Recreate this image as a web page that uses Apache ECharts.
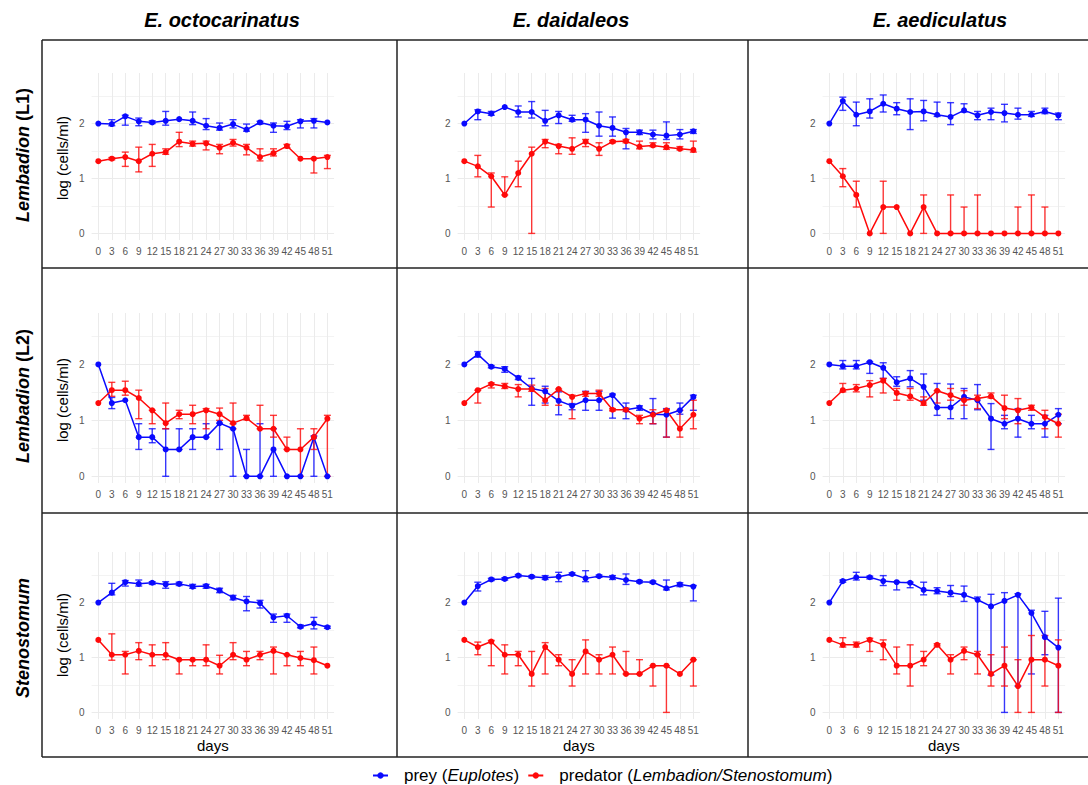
<!DOCTYPE html>
<html><head><meta charset="utf-8">
<script src="https://cdn.jsdelivr.net/npm/echarts@6/dist/echarts.min.js"></script>
<style>html,body{margin:0;padding:0;background:#fff}#c{width:1088px;height:785px}</style>
</head><body><div id="c"></div>
<script>
const days = [0,3,6,9,12,15,18,21,24,27,30,33,36,39,42,45,48,51];
const colTitles = ['E. octocarinatus','E. daidaleos','E. aediculatus'];
const yTickLabels = ['0','1','2'];

// Row 1: Lembadion (L1)
const A_prey   = [2.00,1.99,2.13,2.04,2.02,2.05,2.08,2.05,1.96,1.92,1.99,1.89,2.02,1.96,1.95,2.04,2.05,2.02];
const A_preyLo = [null,1.96,1.97,1.96,2.00,1.97,null,1.98,1.89,1.88,1.92,1.86,1.99,1.84,1.89,1.92,1.92,null];
const A_preyHi = [null,2.07,2.15,2.10,2.05,2.22,null,2.21,2.09,2.01,2.07,1.99,2.04,2.01,2.04,2.07,2.09,null];
const A_pred   = [1.315,1.36,1.39,1.315,1.45,1.48,1.67,1.63,1.64,1.56,1.65,1.56,1.39,1.46,1.59,1.36,1.36,1.39];
const A_predLo = [null,1.34,1.22,1.12,1.22,1.44,1.58,1.59,1.52,1.45,1.59,1.43,1.32,1.41,1.56,null,1.10,1.18];
const A_predHi = [null,1.38,1.48,1.57,1.62,1.54,1.84,1.68,1.68,1.62,1.71,1.62,1.54,1.54,1.62,null,1.37,1.42];

const B_prey   = [2.00,2.22,2.18,2.30,2.21,2.21,2.05,2.15,2.07,2.07,1.96,1.92,1.84,1.84,1.80,1.78,1.80,1.86];
const B_preyLo = [null,2.07,2.15,null,2.12,2.10,1.96,2.00,2.04,1.84,1.77,1.77,1.54,1.80,1.72,1.71,1.72,1.82];
const B_preyHi = [null,2.25,2.22,null,2.32,2.40,2.24,2.22,2.15,2.18,2.21,2.12,1.91,1.88,1.88,2.03,1.89,1.89];
const B_pred   = [1.315,1.22,1.04,0.70,1.10,1.45,1.67,1.59,1.54,1.67,1.54,1.67,1.68,1.58,1.60,1.57,1.54,1.52];
const B_predLo = [null,1.03,0.48,0.70,0.85,0.00,1.56,1.45,1.44,1.58,1.42,1.65,1.65,1.54,1.58,1.53,1.52,1.48];
const B_predHi = [null,1.42,1.10,1.03,1.315,1.57,1.71,1.62,1.74,1.71,1.65,1.69,1.71,1.68,1.65,1.65,1.58,1.68];

const C_prey   = [2.00,2.41,2.16,2.22,2.36,2.27,2.21,2.22,2.16,2.12,2.24,2.15,2.21,2.19,2.16,2.16,2.22,2.15];
const C_preyLo = [null,2.24,1.96,2.10,2.21,2.16,1.89,2.05,2.13,1.98,2.21,2.07,2.07,2.03,2.08,2.13,2.18,2.07];
const C_preyHi = [null,2.48,2.39,2.45,2.52,2.38,2.45,2.42,2.39,2.38,2.36,2.22,2.28,2.35,2.28,2.22,2.28,2.19];
const C_pred   = [1.315,1.04,0.70,0,0.48,0.48,0,0.48,0,0,0,0,0,0,0,0,0,0];
const C_predLo = [null,0.85,0.48,null,0,null,null,0,null,0,0,0,null,null,0,0,0,null];
const C_predHi = [null,1.18,0.95,null,0.95,null,null,0.70,null,0.70,0.48,0.70,null,null,0.48,0.70,0.48,null];

// Row 2: Lembadion (L2)
const D_prey   = [2.00,1.31,1.36,0.70,0.70,0.48,0.48,0.70,0.70,0.95,0.85,0,0,0.48,0,0,0.70,0];
const D_preyLo = [null,1.21,null,0.48,0.60,0,0.48,0.48,0.70,0.48,0,0,0,0,null,null,0,null];
const D_preyHi = [null,1.41,null,0.94,0.85,0.85,0.85,0.85,0.94,0.95,0.94,0.48,0.94,0.85,null,null,0.72,null];
const D_pred   = [1.31,1.54,1.54,1.40,1.18,0.95,1.11,1.11,1.18,1.11,0.95,1.04,0.85,0.85,0.48,0.48,0.70,1.03];
const D_predLo = [null,1.43,1.45,1.03,0.94,0.85,1.03,0.94,0.85,1.00,0.85,1.01,0.85,0.70,0.48,0,0.48,0];
const D_predHi = [null,1.68,1.70,1.54,1.18,1.31,1.18,1.27,1.21,1.22,1.31,1.09,1.27,1.09,0.70,0.85,0.85,1.09];

const E_prey   = [2.00,2.18,1.96,1.92,1.76,1.57,1.52,1.35,1.26,1.36,1.36,1.45,1.19,1.23,1.11,1.10,1.18,1.42];
const E_preyLo = [null,2.13,1.94,1.86,1.73,1.27,1.31,1.10,1.19,1.18,1.18,1.04,1.03,1.18,0.94,0.70,1.11,1.18];
const E_preyHi = [null,2.23,1.98,1.96,1.79,1.75,1.61,1.51,1.30,1.52,1.52,1.47,1.31,1.26,1.39,1.21,1.31,1.45];
const E_pred   = [1.31,1.54,1.65,1.61,1.56,1.56,1.36,1.56,1.42,1.48,1.48,1.19,1.19,1.03,1.10,1.18,0.85,1.10];
const E_predLo = [null,1.31,1.58,1.57,1.42,1.52,1.27,1.27,1.03,1.43,1.43,1.17,1.16,0.94,0.94,0.70,0.70,0.85];
const E_predHi = [null,1.54,1.67,1.66,1.64,1.63,1.57,1.56,1.45,1.51,1.54,1.21,1.22,1.09,1.19,1.19,1.18,1.36];

const F_prey   = [2.00,1.97,1.97,2.04,1.94,1.68,1.75,1.60,1.23,1.23,1.42,1.36,1.03,0.94,1.03,0.94,0.94,1.10];
const F_preyLo = [null,1.92,1.92,1.84,1.75,1.61,1.60,1.36,1.09,1.03,1.03,1.19,0.48,0.85,0.70,0.85,0.70,0.94];
const F_preyHi = [null,2.07,2.07,2.05,2.03,1.78,1.89,1.83,1.66,1.65,1.57,1.64,1.30,1.09,1.21,1.09,1.09,1.21];
const F_pred   = [1.31,1.54,1.57,1.63,1.71,1.49,1.43,1.31,1.53,1.45,1.36,1.39,1.43,1.22,1.18,1.23,1.06,0.94];
const F_predLo = [null,1.51,1.51,1.42,1.49,1.36,1.36,1.27,1.31,1.36,1.27,1.21,1.40,1.03,0.94,1.18,0.85,0.70];
const F_predHi = [null,1.66,1.64,1.71,1.75,1.57,1.57,1.42,1.53,1.57,1.53,1.45,1.49,1.45,1.39,1.27,1.18,1.11];

// Row 3: Stenostomum
const G_prey   = [2.00,2.18,2.37,2.34,2.36,2.33,2.34,2.29,2.30,2.22,2.09,2.02,1.99,1.73,1.76,1.56,1.62,1.55];
const G_preyLo = [null,2.14,2.30,2.30,2.33,2.26,2.31,2.26,2.26,2.18,2.05,1.85,1.90,1.64,1.64,1.54,1.52,1.53];
const G_preyHi = [null,2.35,2.40,2.41,2.38,2.38,2.37,2.33,2.33,2.26,2.13,2.11,2.04,1.79,1.79,1.59,1.73,1.57];
const G_pred   = [1.32,1.05,1.05,1.12,1.05,1.05,0.96,0.96,0.96,0.85,1.05,0.96,1.05,1.12,1.05,0.99,0.95,0.85];
const G_predLo = [null,0.95,0.70,0.96,0.85,0.96,0.70,0.85,0.85,0.70,0.96,0.85,0.96,0.70,0.85,0.85,0.70,null];
const G_predHi = [null,1.43,1.11,1.27,1.23,1.27,0.96,0.96,1.23,1.04,1.27,1.11,1.11,1.19,1.05,1.11,1.19,null];

const H_prey   = [2.00,2.30,2.42,2.43,2.49,2.47,2.45,2.47,2.52,2.44,2.48,2.46,2.41,2.38,2.37,2.26,2.33,2.29];
const H_preyLo = [null,2.21,2.40,2.41,2.47,2.45,2.42,2.38,2.50,2.38,2.46,2.42,2.33,2.36,2.35,2.23,2.29,2.03];
const H_preyHi = [null,2.37,2.44,2.45,2.51,2.49,2.49,2.55,2.54,2.58,2.50,2.49,2.52,2.40,2.39,2.41,2.36,2.31];
const H_pred   = [1.32,1.19,1.29,1.05,1.05,0.70,1.19,0.96,0.70,1.11,0.96,1.05,0.70,0.70,0.85,0.85,0.70,0.96];
const H_predLo = [null,1.05,0.85,0.70,0.85,0.48,0.70,0.85,0.48,0.70,0.70,0.70,0.70,0.70,0.48,0,null,0.48];
const H_predHi = [null,1.28,1.31,1.23,1.11,1.11,1.27,1.05,0.96,1.32,1.05,1.19,1.11,0.96,0.85,0.85,null,0.96];

const I_prey   = [2.00,2.39,2.46,2.46,2.39,2.37,2.36,2.23,2.21,2.18,2.14,2.05,1.93,2.03,2.14,1.81,1.37,1.18];
const I_preyLo = [null,2.37,2.41,2.43,2.31,2.23,2.27,2.14,2.16,2.11,2.02,1.05,0.68,0,0.48,0.70,1.05,0];
const I_preyHi = [null,2.41,2.55,2.48,2.49,2.38,2.37,2.37,2.27,2.31,2.30,2.10,2.15,2.18,2.16,1.86,1.84,2.08];
const I_pred   = [1.32,1.23,1.23,1.32,1.23,0.85,0.85,0.96,1.23,0.96,1.12,1.05,0.70,0.85,0.48,0.96,0.96,0.85];
const I_predLo = [null,1.19,1.19,1.11,0.96,0.70,0.48,0.85,1.21,0.70,0.96,0.70,0.48,0.48,0,0,0.48,0];
const I_predHi = [null,1.36,1.28,1.35,1.32,1.19,1.23,1.11,1.25,1.05,1.19,1.11,1.05,1.19,0.96,1.40,1.40,1.32];

const panels = [
  {r:0,c:0,p:A_prey,pl:A_preyLo,ph:A_preyHi,q:A_pred,ql:A_predLo,qh:A_predHi},
  {r:0,c:1,p:B_prey,pl:B_preyLo,ph:B_preyHi,q:B_pred,ql:B_predLo,qh:B_predHi},
  {r:0,c:2,p:C_prey,pl:C_preyLo,ph:C_preyHi,q:C_pred,ql:C_predLo,qh:C_predHi},
  {r:1,c:0,p:D_prey,pl:D_preyLo,ph:D_preyHi,q:D_pred,ql:D_predLo,qh:D_predHi},
  {r:1,c:1,p:E_prey,pl:E_preyLo,ph:E_preyHi,q:E_pred,ql:E_predLo,qh:E_predHi},
  {r:1,c:2,p:F_prey,pl:F_preyLo,ph:F_preyHi,q:F_pred,ql:F_predLo,qh:F_predHi},
  {r:2,c:0,p:G_prey,pl:G_preyLo,ph:G_preyHi,q:G_pred,ql:G_predLo,qh:G_predHi},
  {r:2,c:1,p:H_prey,pl:H_preyLo,ph:H_preyHi,q:H_pred,ql:H_predLo,qh:H_predHi},
  {r:2,c:2,p:I_prey,pl:I_preyLo,ph:I_preyHi,q:I_pred,ql:I_predLo,qh:I_predHi}
];

const FONT = 'Liberation Sans';
const BLUE = '#0a0aff', RED = '#ff0a0a';
const colLeft = [91.6, 457.6, 822.6], plotW = 242.5;
const rowTop = [73, 313, 552], rowH = [167, 170, 167];
const YMIN = -0.12, YMAX = 2.92;

function errSeries(name, lo, hi, color, i) {
  const data = [];
  lo.forEach((l, k) => { if (l != null && hi[k] != null) data.push([k, l, hi[k]]); });
  return {
    type: 'custom', name: name, xAxisIndex: i, yAxisIndex: i, data: data, silent: true, z: 3,
    encode: {x: 0, y: [1, 2]},
    renderItem: function (params, api) {
      const x = api.value(0);
      const a = api.coord([x, api.value(1)]);
      const b = api.coord([x, api.value(2)]);
      const w = 3.5;
      const st = {stroke: color, lineWidth: 1.4, opacity: 0.8};
      return {type: 'group', children: [
        {type: 'line', shape: {x1: a[0], y1: a[1], x2: b[0], y2: b[1]}, style: st},
        {type: 'line', shape: {x1: a[0] - w, y1: a[1], x2: a[0] + w, y2: a[1]}, style: st},
        {type: 'line', shape: {x1: b[0] - w, y1: b[1], x2: b[0] + w, y2: b[1]}, style: st}
      ]};
    }
  };
}

const grid = [], xAxis = [], yAxis = [], series = [];
panels.forEach((pn, i) => {
  grid.push({left: colLeft[pn.c], top: rowTop[pn.r], width: plotW, height: rowH[pn.r]});
  xAxis.push({
    type: 'category', gridIndex: i, data: days.map(String), boundaryGap: true,
    axisLine: {show: false, onZero: false}, axisTick: {show: false},
    axisLabel: {interval: 0, margin: 6, fontSize: 10, color: '#555', fontFamily: FONT},
    splitLine: {show: true, alignWithLabel: true, lineStyle: {color: '#ebebeb', width: 1}}
  });
  yAxis.push({
    type: 'value', gridIndex: i, min: YMIN, max: YMAX, splitNumber: 3, minInterval: 1, maxInterval: 1,
    axisLine: {show: false}, axisTick: {show: false},
    axisLabel: {margin: 7, fontSize: 10, color: '#555', fontFamily: FONT, showMinLabel: false, showMaxLabel: false,
      formatter: v => (Number.isInteger(v) && yTickLabels.indexOf(String(v)) >= 0) ? String(v) : ''},
    splitLine: {show: true, showMinLine: false, showMaxLine: false, lineStyle: {color: '#ebebeb', width: 1}},
    minorTick: {show: false, splitNumber: 2},
    minorSplitLine: {show: true, lineStyle: {color: '#f3f3f3', width: 1}}
  });
  series.push(errSeries('prey_err', pn.pl, pn.ph, BLUE, i));
  series.push(errSeries('pred_err', pn.ql, pn.qh, RED, i));
  series.push({type: 'line', name: 'prey', xAxisIndex: i, yAxisIndex: i, data: pn.p,
    symbol: 'circle', symbolSize: 6, lineStyle: {color: BLUE, width: 1.5}, itemStyle: {color: BLUE}, z: 4});
  series.push({type: 'line', name: 'predator', xAxisIndex: i, yAxisIndex: i, data: pn.q,
    symbol: 'circle', symbolSize: 6, lineStyle: {color: RED, width: 1.5}, itemStyle: {color: RED}, z: 4});
});

const graphic = [];
const LC = '#222', LW = 1.5;
function hline(y, x1, x2) { graphic.push({type: 'line', shape: {x1: x1, y1: y, x2: x2, y2: y}, style: {stroke: LC, lineWidth: LW}, silent: true}); }
function vline(x, y1, y2) { graphic.push({type: 'line', shape: {x1: x, y1: y1, x2: x, y2: y2}, style: {stroke: LC, lineWidth: LW}, silent: true}); }
hline(40, 42, 1088); hline(268, 42, 1088); hline(513, 42, 1088); hline(757, 42, 1088);
vline(42, 40, 757); vline(397, 40, 757); vline(748, 40, 757);

const titleX = [222, 571, 940];
colTitles.forEach((t, k) => graphic.push({type: 'text', x: titleX[k], y: 20, silent: true,
  style: {text: t, fontSize: 20, fontWeight: 'bold', fontStyle: 'italic', fontFamily: FONT, fill: '#000', align: 'center', verticalAlign: 'middle'}}));

const rowLabels = ['{i|Lembadion} (L1)', '{i|Lembadion} (L2)', '{i|Stenostomum}'];
const rowLabelY = [155, 396, 638];
rowLabels.forEach((t, k) => graphic.push({type: 'text', x: 23, y: rowLabelY[k], rotation: Math.PI / 2, silent: true,
  style: {text: t, fontSize: 18, fontWeight: 'bold', fontFamily: FONT, fill: '#000', align: 'center', verticalAlign: 'middle',
    rich: {i: {fontSize: 18, fontWeight: 'bold', fontStyle: 'italic', fontFamily: FONT, fill: '#000'}}}}));

const yNameY = [158, 400, 635];
yNameY.forEach(y => graphic.push({type: 'text', x: 62, y: y, rotation: Math.PI / 2, silent: true,
  style: {text: 'log (cells/ml)', fontSize: 15, fontFamily: FONT, fill: '#000', align: 'center', verticalAlign: 'middle'}}));

colLeft.forEach(l => graphic.push({type: 'text', x: l + plotW / 2, y: 745, silent: true,
  style: {text: 'days', fontSize: 15, fontFamily: FONT, fill: '#000', align: 'center', verticalAlign: 'middle'}}));

const chart = echarts.init(document.getElementById('c'), null, {renderer: 'svg'});
chart.setOption({
  animation: false,
  backgroundColor: '#fff',
  grid: grid, xAxis: xAxis, yAxis: yAxis, series: series,
  legend: {
    data: ['prey', 'predator'], left: 367, top: 762, itemWidth: 15, itemHeight: 8, itemGap: 8,
    formatter: n => n === 'prey' ? '{s|}prey ({i|Euplotes})' : '{s|}predator ({i|Lembadion/Stenostomum})',
    textStyle: {fontSize: 17, color: '#000', fontFamily: FONT,
      rich: {s: {width: 11, fontSize: 17}, i: {fontSize: 17, fontStyle: 'italic', color: '#000', fontFamily: FONT}}}
  },
  graphic: graphic
});
</script></body></html>
